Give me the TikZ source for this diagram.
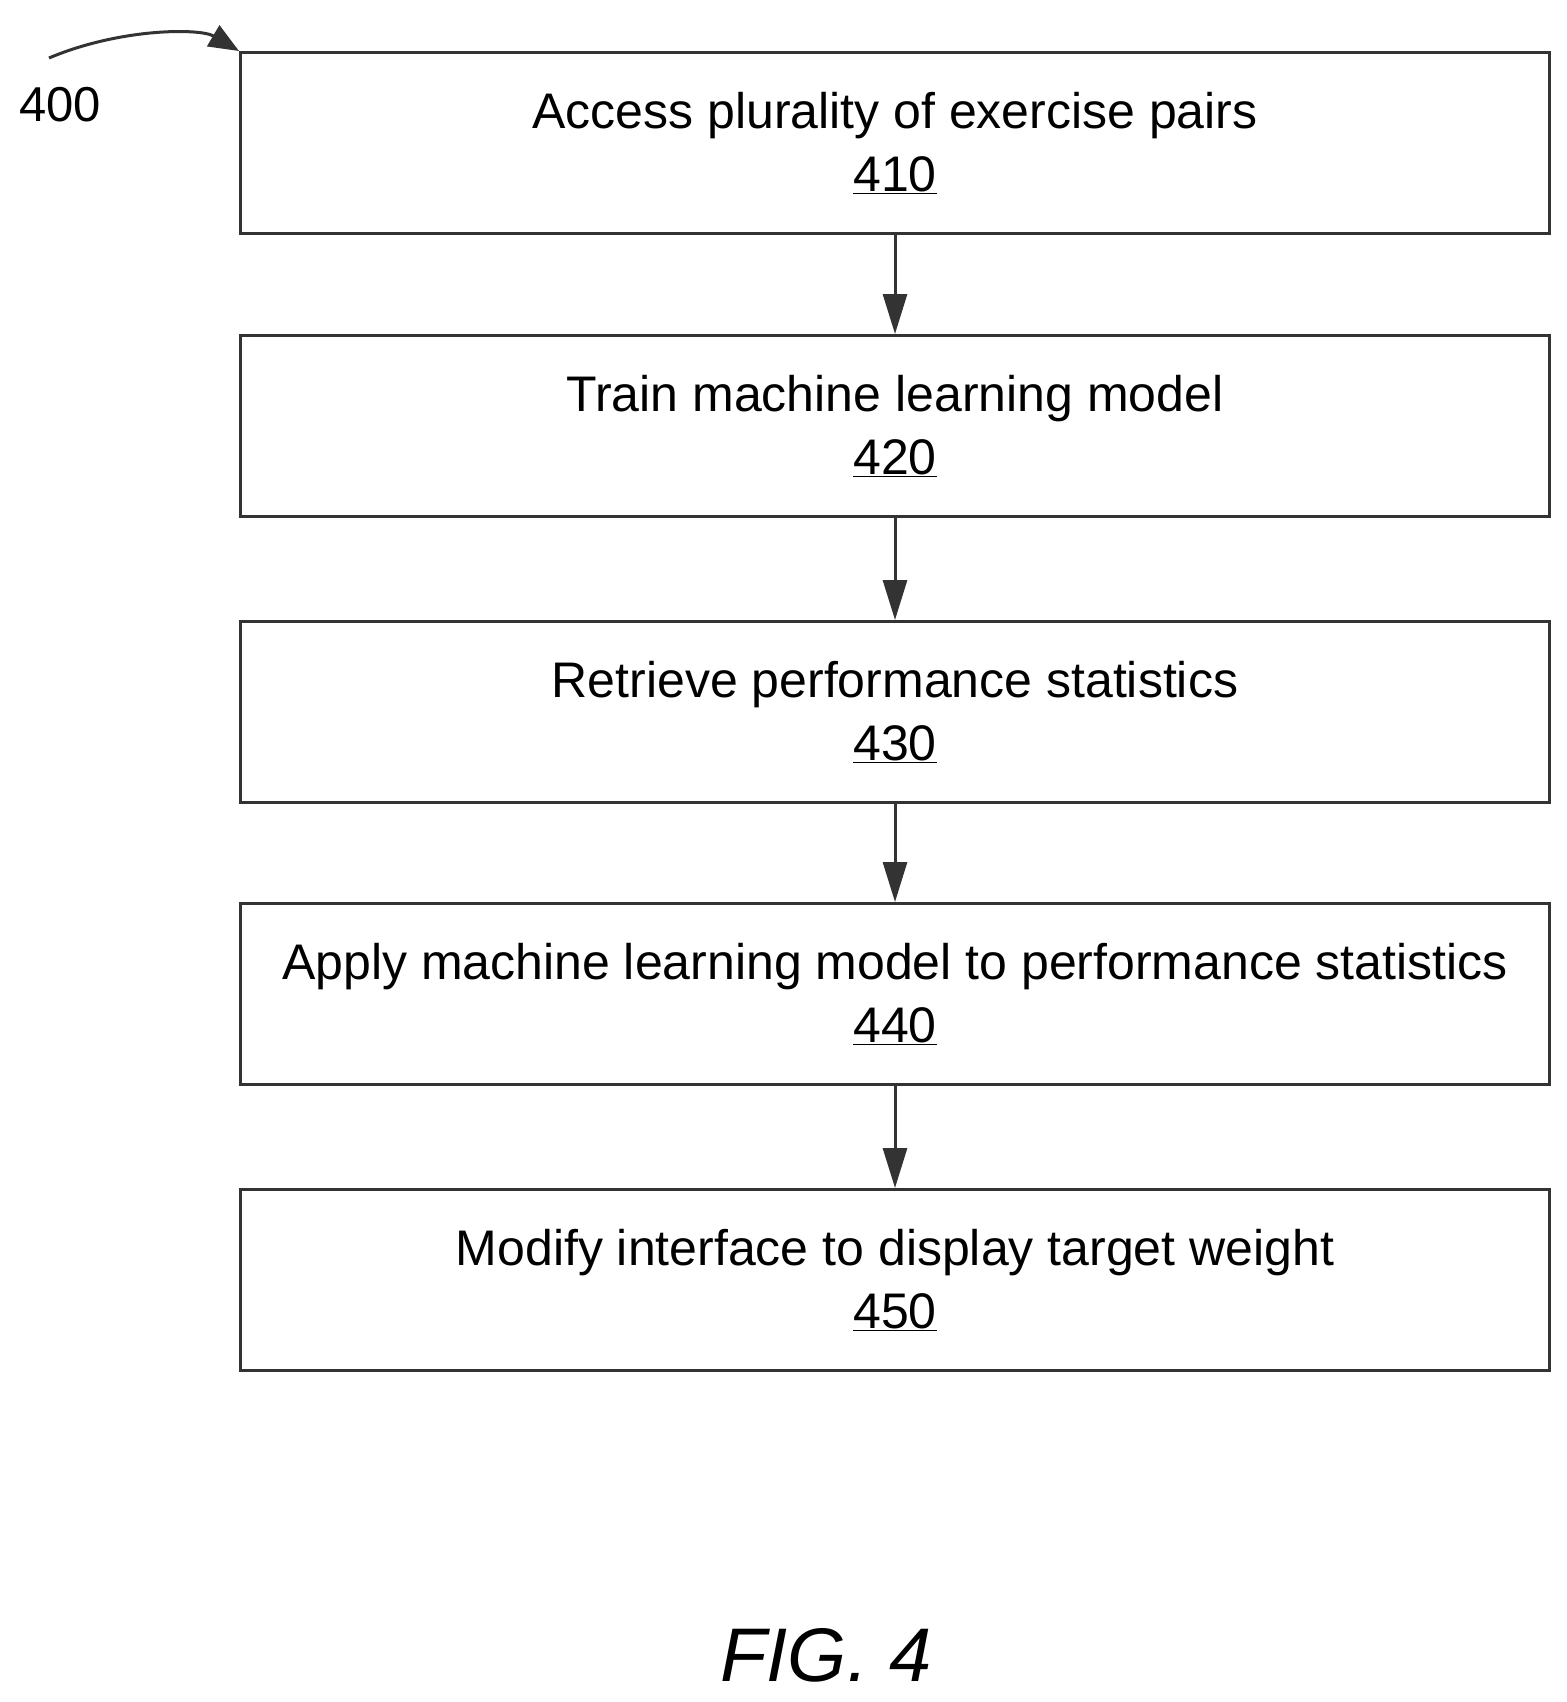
\documentclass[tikz,border=0pt]{standalone}
\usepackage{fontspec}
\setmainfont{Liberation Sans}
\usetikzlibrary{arrows.meta}
\begin{document}
\begin{tikzpicture}[x=1pt,y=-1pt,
  box/.style={draw=black!80,line width=3pt,minimum width=1309pt,minimum height=181pt,anchor=north west,inner sep=0pt,align=center,font=\fontsize{50}{63}\selectfont},
  arr/.style={draw=black!80,line width=3pt,-{Triangle[length=40pt,width=24pt]}}]
\useasboundingbox (0,0) rectangle (1566,1702);
\node[box] (b410) at (239,51) {Access plurality of exercise pairs\\\underline{410}};
\node[box] (b420) at (239,334) {Train machine learning model\\\underline{420}};
\node[box] (b430) at (239,620) {Retrieve performance statistics\\\underline{430}};
\node[box] (b440) at (239,902) {Apply machine learning model to performance statistics\\\underline{440}};
\node[box] (b450) at (239,1188) {Modify interface to display target weight\\\underline{450}};
\draw[arr] (b410) -- (b420);
\draw[arr] (b420) -- (b430);
\draw[arr] (b430) -- (b440);
\draw[arr] (b440) -- (b450);
\node[font=\fontsize{49}{50}\selectfont] (l400) at (60,105) {400};
\coordinate (c0) at (49,58);
\draw[draw=black!80,line width=3pt,-{Triangle[length=30pt,width=24pt]}] (c0) .. controls (120,28) and (200,28) .. (b410.north west);
\node[font=\fontsize{76}{76}\itshape\selectfont] (fig) at (826,1655) {FIG. 4};
\end{tikzpicture}
\end{document}
